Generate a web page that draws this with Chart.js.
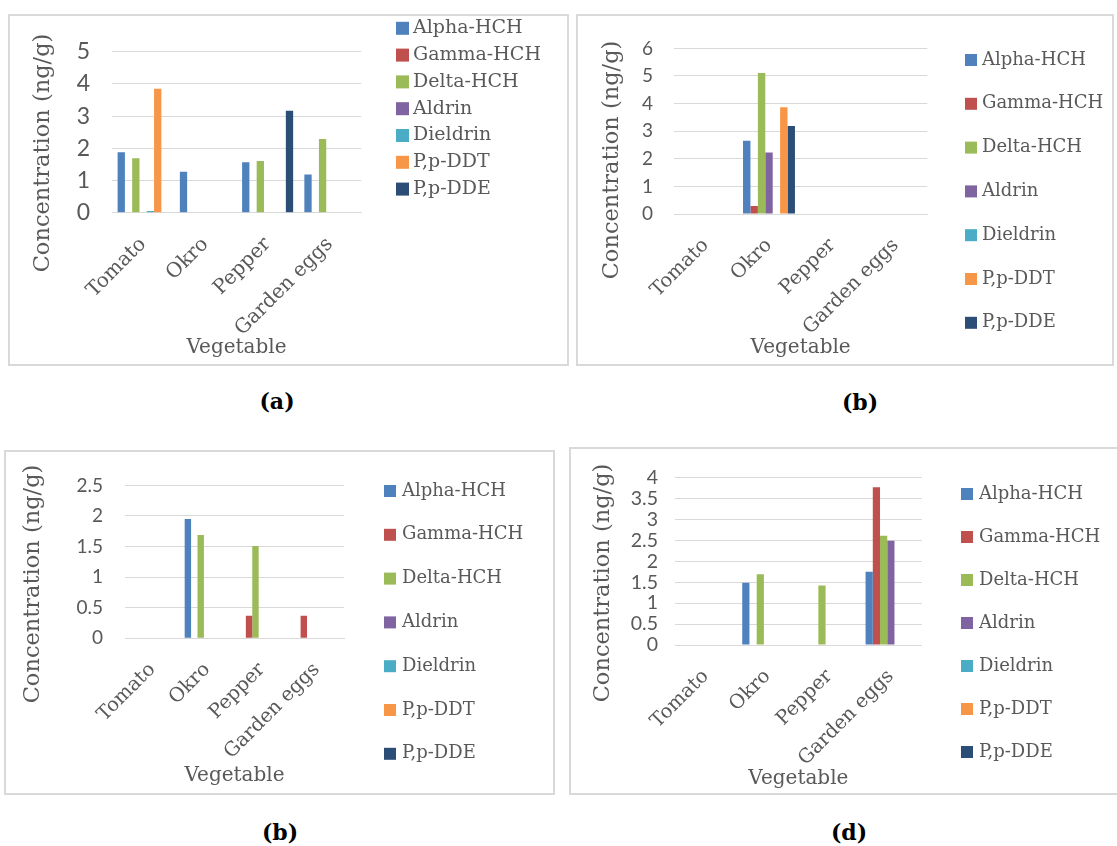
<!DOCTYPE html>
<html>
<head>
<meta charset="utf-8">
<script src="https://cdn.jsdelivr.net/npm/chart.js@4.4.1/dist/chart.umd.min.js"></script>
<style>
  html, body { margin: 0; padding: 0; background: #fff; }
  body { width: 1117px; height: 846px; position: relative; overflow: hidden; }
  .frame { position: absolute; box-sizing: border-box; border: 2px solid #d9d9d9; background: #fff; }
  .frame canvas { display: block; }
  .cap { position: absolute; font: bold 22px "DejaVu Serif", serif; color: #000; transform: translate(-50%, -50%); white-space: nowrap; }
</style>
</head>
<body>
<div class="frame" style="left:8px;top:14px;width:561px;height:352px"><canvas id="chartA" width="557" height="348"></canvas></div>
<div class="frame" style="left:576px;top:14px;width:538px;height:352px"><canvas id="chartB" width="534" height="348"></canvas></div>
<div class="frame" style="left:4px;top:450px;width:551px;height:345px"><canvas id="chartC" width="547" height="341"></canvas></div>
<div class="frame" style="left:569px;top:447px;width:550px;height:348px"><canvas id="chartD" width="546" height="344"></canvas></div>

<div class="cap" style="left:277px;top:401px">(a)</div>
<div class="cap" style="left:860px;top:402px">(b)</div>
<div class="cap" style="left:280px;top:832px">(b)</div>
<div class="cap" style="left:849px;top:832px">(d)</div>

<script>
// Vegetables on the x axis and the pesticides plotted for each one
const vegetables = ['Tomato', 'Okro', 'Pepper', 'Garden eggs'];
const pesticides = ['Alpha-HCH', 'Gamma-HCH', 'Delta-HCH', 'Aldrin', 'Dieldrin', 'P,p-DDT', 'P,p-DDE'];
const pesticideColors = ['#4F81BD', '#C0504D', '#9BBB59', '#8064A2', '#4BACC6', '#F79646', '#2C4D75'];

// (a) concentrations, ng/g, one value per vegetable
const alphaA    = [1.88, 1.27, 1.57, 1.19];
const gammaA    = [0, 0, 0, 0];
const deltaA    = [1.69, 0, 1.61, 2.29];
const aldrinA   = [0, 0, 0, 0];
const dieldrinA = [0.05, 0, 0, 0];
const ddtA      = [3.85, 0, 0, 0];
const ddeA      = [0, 0, 3.17, 0];

// (b) upper panel
const alphaB    = [0, 2.65, 0, 0];
const gammaB    = [0, 0.29, 0, 0];
const deltaB    = [0, 5.11, 0, 0];
const aldrinB   = [0, 2.23, 0, 0];
const dieldrinB = [0, 0, 0, 0];
const ddtB      = [0, 3.87, 0, 0];
const ddeB      = [0, 3.19, 0, 0];

// (b) lower panel
const alphaC    = [0, 1.95, 0, 0];
const gammaC    = [0, 0, 0.37, 0.37];
const deltaC    = [0, 1.69, 1.51, 0];
const aldrinC   = [0, 0, 0, 0];
const dieldrinC = [0, 0, 0, 0];
const ddtC      = [0, 0, 0, 0];
const ddeC      = [0, 0, 0, 0];

// (d)
const alphaD    = [0, 1.49, 0, 1.75];
const gammaD    = [0, 0, 0, 3.77];
const deltaD    = [0, 1.69, 1.42, 2.61];
const aldrinD   = [0, 0, 0, 2.49];
const dieldrinD = [0, 0, 0, 0];
const ddtD      = [0, 0, 0, 0];
const ddeD      = [0, 0, 0, 0];

// y-axis tick values for each panel
const yTicksA = [0, 1, 2, 3, 4, 5];
const yTicksB = [0, 1, 2, 3, 4, 5, 6];
const yTicksC = [0, 0.5, 1, 1.5, 2, 2.5];
const yTicksD = [0, 0.5, 1, 1.5, 2, 2.5, 3, 3.5, 4];

const yTitle = 'Concentration (ng/g)';
const xTitle = 'Vegetable';

const SERIF = '"DejaVu Serif", serif';
const SANS = 'Lato, "Open Sans", sans-serif';
const TEXT_GREY = '#595959';
const GRID_GREY = '#d9d9d9';

// Draws the rotated value-axis title and the legend column beside the plot
const panelText = {
  id: 'panelText',
  afterDraw(chart, args, o) {
    const ctx = chart.ctx;
    ctx.save();
    ctx.font = o.titleSize + 'px ' + SERIF;
    ctx.fillStyle = TEXT_GREY;
    ctx.translate(o.titleX, o.titleY);
    ctx.rotate(-Math.PI / 2);
    ctx.textAlign = 'center';
    ctx.textBaseline = 'middle';
    ctx.fillText(o.text, 0, 0);
    ctx.restore();

    ctx.save();
    ctx.font = o.legendSize + 'px ' + SERIF;
    ctx.textAlign = 'left';
    ctx.textBaseline = 'middle';
    chart.data.datasets.forEach((ds, i) => {
      const y = o.legendY + i * o.legendPitch;
      ctx.fillStyle = ds.backgroundColor;
      ctx.fillRect(o.boxX, y - o.boxH / 2, o.boxW, o.boxH);
      ctx.fillStyle = TEXT_GREY;
      ctx.fillText(ds.label, o.textX, y);
    });
    ctx.restore();
  }
};

function makeChart(id, series, yTicks, g) {
  const datasets = pesticides.map((name, i) => ({
    label: name,
    data: series[i],
    backgroundColor: pesticideColors[i],
    borderWidth: 0,
    categoryPercentage: 0.82,
    barPercentage: 1
  }));
  return new Chart(document.getElementById(id), {
    type: 'bar',
    data: { labels: vegetables, datasets },
    options: {
      responsive: false,
      animation: false,
      events: [],
      layout: { padding: { left: 0, top: g.top, right: g.right, bottom: g.bottom } },
      plugins: {
        legend: { display: false },
        tooltip: { enabled: false },
        panelText: {
          text: yTitle, titleSize: 22.5, titleX: g.titleX, titleY: g.titleY,
          legendSize: g.legendSize, legendY: g.legendY, legendPitch: g.legendPitch,
          boxX: g.boxX, boxW: g.boxW, boxH: g.boxH, textX: g.textX
        }
      },
      scales: {
        x: {
          grid: { display: false, drawTicks: false },
          border: { display: true, color: GRID_GREY, width: 1 },
          ticks: {
            autoSkip: false, minRotation: 45, maxRotation: 45, padding: g.xPad,
            color: TEXT_GREY, font: { family: SERIF, size: g.xFont }
          },
          title: { display: true, text: xTitle, color: TEXT_GREY, font: { family: SERIF, size: 20 }, padding: 0 },
          afterFit: s => { s.height = g.xH; }
        },
        y: {
          min: yTicks[0],
          max: yTicks[yTicks.length - 1],
          afterBuildTicks: s => { s.ticks = yTicks.map(v => ({ value: v })); },
          grid: { color: GRID_GREY, lineWidth: 1, drawTicks: false },
          border: { display: false },
          ticks: {
            autoSkip: false, padding: g.yPad, color: TEXT_GREY,
            font: { family: SANS, size: g.yFont },
            callback: v => String(v)
          },
          afterFit: s => { s.width = g.yW; }
        }
      }
    },
    plugins: [panelText]
  });
}

makeChart('chartA', [alphaA, gammaA, deltaA, aldrinA, dieldrinA, ddtA, ddeA], yTicksA, {
  top: 27.3, right: 206, bottom: 4, yW: 102, xH: 147.3,
  yPad: 22, yFont: 23, xPad: 20, xFont: 20,
  titleX: 33, titleY: 137,
  legendSize: 19, legendY: 12.3, legendPitch: 26.8, boxX: 386, boxW: 13, boxH: 13, textX: 403
});

makeChart('chartB', [alphaB, gammaB, deltaB, aldrinB, dieldrinB, ddtB, ddeB], yTicksB, {
  top: 28, right: 184.7, bottom: 4, yW: 96, xH: 146,
  yPad: 21, yFont: 19, xPad: 20, xFont: 19.5,
  titleX: 34, titleY: 144,
  legendSize: 18, legendY: 44, legendPitch: 43.8, boxX: 387, boxW: 12, boxH: 12, textX: 404
});

makeChart('chartC', [alphaC, gammaC, deltaC, aldrinC, dieldrinC, ddtC, ddeC], yTicksC, {
  top: 26.3, right: 209, bottom: 5, yW: 119, xH: 149.7,
  yPad: 22, yFont: 19, xPad: 20, xFont: 19.5,
  titleX: 27, titleY: 132,
  legendSize: 18, legendY: 39, legendPitch: 43.8, boxX: 378, boxW: 12, boxH: 12, textX: 396
});

makeChart('chartD', [alphaD, gammaD, deltaD, aldrinD, dieldrinD, ddtD, ddeD], yTicksD, {
  top: 27.7, right: 195.3, bottom: 2, yW: 104, xH: 146,
  yPad: 17, yFont: 19.5, xPad: 20, xFont: 19.5,
  titleX: 32, titleY: 134,
  legendSize: 18, legendY: 45, legendPitch: 43, boxX: 390, boxW: 12, boxH: 12, textX: 408
});
</script>
</body>
</html>
